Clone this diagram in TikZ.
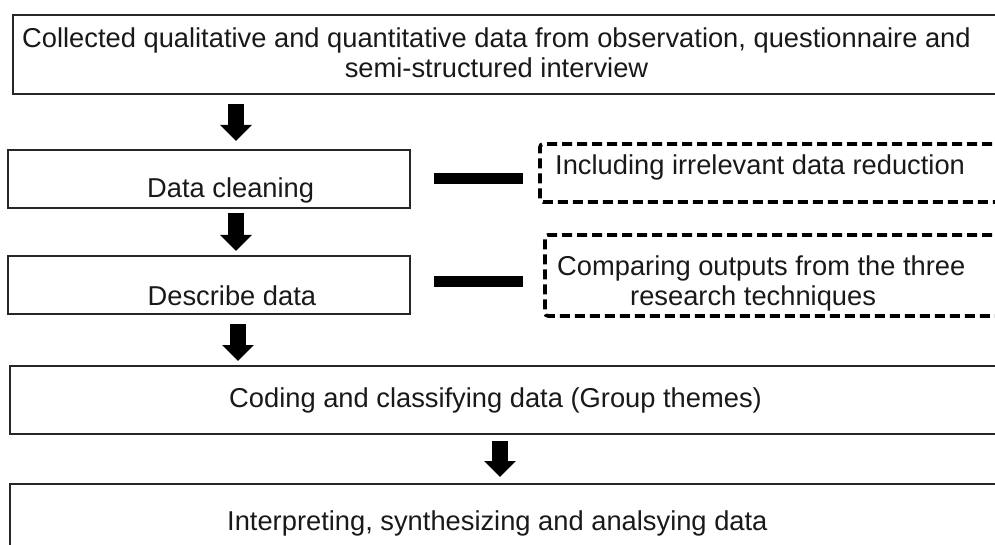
\documentclass[tikz,border=0pt]{standalone}
\usepackage{fontspec}
\setmainfont{Liberation Sans}
\usetikzlibrary{arrows.meta,calc}
\begin{document}
\begin{tikzpicture}[x=1pt,y=-1pt,
  box/.style={draw=black!85, line width=2pt, rectangle, inner sep=0pt},
  dbox/.style={draw=black, line width=3.6pt, dash pattern=on 10pt off 5pt, rounded corners=3pt, rectangle, inner sep=0pt},
  txt/.style={inner sep=0pt, font=\fontsize{27.3}{30}\selectfont, text=black!90},
  blockarrow/.style={draw=black, line width=16pt, -{Triangle[width=31pt,length=16pt]}},
  bar/.style={draw=black, line width=11pt}]
\useasboundingbox (0,0) rectangle (995,545);
% boxes
\node[box, minimum width=997.3pt, minimum height=79pt] (top) at (511.35,54.5) {};
\node[box, minimum width=402pt, minimum height=58pt] (clean) at (209,179) {};
\node[box, minimum width=402pt, minimum height=58pt] (desc) at (209,285) {};
\node[dbox, minimum width=470pt, minimum height=58pt] (d1) at (775,173) {};
\node[dbox, minimum width=465pt, minimum height=81pt] (d2) at (777.5,275.5) {};
\node[box, minimum width=1000pt, minimum height=68pt] (code) at (510,400) {};
\node[box, minimum width=1000pt, minimum height=86pt] (interp) at (510,527) {};
% texts
\node[txt, anchor=base] (toptxt) at (496.5,48) {\begin{tabular}[t]{@{}c@{}}Collected qualitative and quantitative data from observation, questionnaire and\\ semi-structured interview\end{tabular}};
\node[txt, anchor=base west] (cleantxt) at (147,198) {Data cleaning};
\node[txt, anchor=base west] (desctxt) at (147.5,305) {Describe data};
\node[txt, anchor=base west] (d1txt) at (555,175) {Including irrelevant data reduction};
\node[txt, anchor=base west] (d2txt) at (557,275) {\begin{tabular}[t]{@{}l@{}}Comparing outputs from the three\\ \hspace*{73pt}research techniques\end{tabular}};
\node[txt, anchor=base west] (codetxt) at (229,407) {Coding and classifying data (Group themes)};
\node[txt, anchor=base west] (interptxt) at (227,530) {Interpreting, synthesizing and analsying data};
% arrow positions
\coordinate (a1) at (236,0);
\coordinate (a3) at (238,0);
\coordinate (a4) at (500,0);
\draw[blockarrow, shorten <=9pt, shorten >=8pt] (top.south -| a1) -- (clean.north -| a1);
\draw[blockarrow, shorten <=4pt, shorten >=4pt] (clean.south -| a1) -- (desc.north -| a1);
\draw[blockarrow, shorten <=9pt, shorten >=4pt] (desc.south -| a3) -- (code.north -| a3);
\draw[blockarrow, shorten <=6pt, shorten >=6pt] (code.south -| a4) -- (interp.north -| a4);
% bars
\draw[bar, shorten <=23pt, shorten >=15pt] (clean.east) -- (clean.east -| d1.west);
\draw[bar, shorten <=23pt, shorten >=20pt] ([yshift=3.5pt]desc.east) -- ([yshift=3.5pt]desc.east -| d2.west);
\end{tikzpicture}
\end{document}
